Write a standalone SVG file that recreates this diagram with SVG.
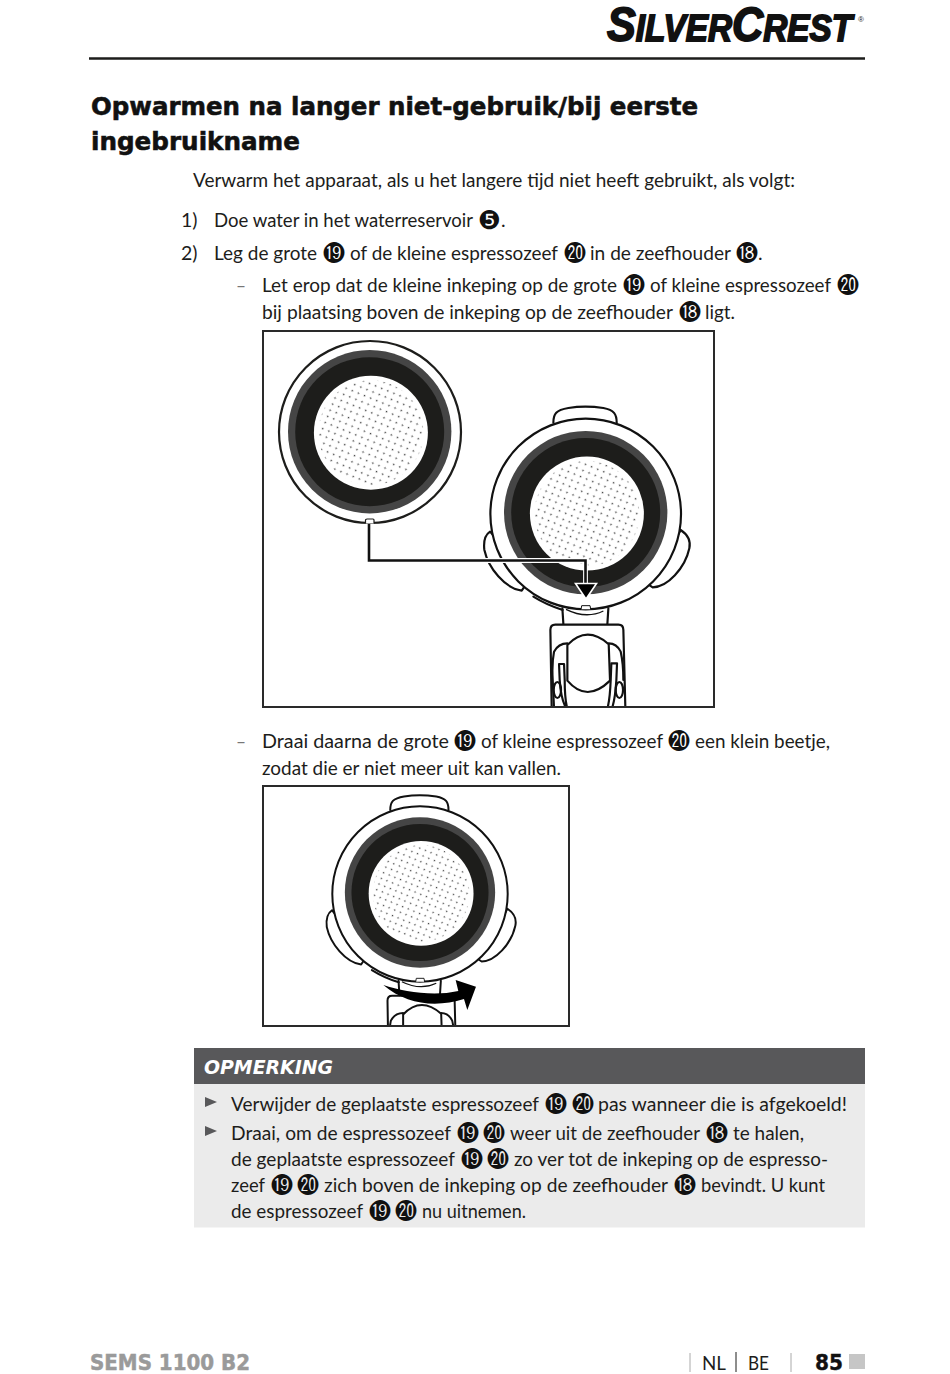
<svg xmlns="http://www.w3.org/2000/svg" xmlns:xlink="http://www.w3.org/1999/xlink" width="950" height="1374" viewBox="0 0 950 1374">
<style>
text{font-family:"Lato","Liberation Sans",sans-serif;font-size:19.5px;fill:#1d1d1b}
.h{font-family:"DejaVu Sans",sans-serif;font-weight:700;font-size:25.5px;fill:#111;stroke:#111;stroke-width:.6}
.n{font-family:"DejaVu Sans",sans-serif;font-size:22px;text-anchor:middle;fill:#111}
.d{fill:#777}
.l{fill:none;stroke:#111;stroke-width:6.5;stroke-linejoin:round;stroke-linecap:round}
.f{fill:#fff;stroke:#1d1d1b;stroke-width:2.2}
</style>
<defs>
<pattern id="dots" patternUnits="userSpaceOnUse" width="6.6" height="6.6" patternTransform="rotate(22)">
<circle cx="1.5" cy="1.5" r="0.85" fill="#444"/>
</pattern>
<g id="ringset">
<circle r="81.7" fill="#454545"/>
<circle r="74.5" fill="#1d1d1b"/>
<circle cx="1.2" cy="1" r="57" fill="#fff"/>
<circle cx="1.2" cy="1" r="52.5" fill="url(#dots)"/>
</g>
<g id="holder">
<g transform="scale(.3333) translate(-977,-552)">
<path class="l" style="fill:#fff" d="M880,278C880,252 888,240 925,234Q975,226 1030,234C1062,240 1070,252 1070,278"/>
<path class="l" style="fill:#fff" d="M690,605C675,615 670,635 673,660C685,715 735,775 785,782L800,760L720,640Z"/>
<path class="l" style="fill:#fff" d="M1262,600C1285,615 1292,635 1288,655C1275,715 1222,772 1178,772L1160,760L1240,640Z"/>
<path class="l" d="M907,835L910,882M1045,835L1042,882"/>
<path class="l" d="M875,1135L871,900Q871,884 886,884L1075,884Q1090,884 1090,900L1096,1135"/>
<path class="l" d="M820,800Q860,825 908,840"/>
<circle cx="977" cy="552" r="286" fill="#fff" stroke="#111" stroke-width="6.5"/>
<path d="M918,838Q978,868 1030,843" fill="none" stroke="#111" stroke-width="4"/>
<path class="l" style="stroke-width:3;fill:#fff" d="M963,838L965,827L990,827L992,838"/>
<path class="l" d="M922,945Q980,885 1045,942M922,945L922,1052Q980,1120 1050,1052L1046,942"/>
<path class="l" d="M922,940Q895,940 882,965Q875,1000 878,1050L882,1135M1046,940Q1070,940 1082,965Q1090,1000 1090,1050"/>
<path class="l" d="M897,1002L912,1002L914,1050Q914,1100 920,1128M897,1002L899,1050Q902,1100 915,1128M1054,1000L1071,1000L1069,1050Q1066,1100 1058,1128M1054,1000L1052,1050Q1050,1100 1044,1128"/>
<ellipse cx="892" cy="1080" rx="11" ry="24" class="l"/>
<ellipse cx="1078" cy="1080" rx="11" ry="24" class="l"/>
</g>
</g>
<clipPath id="c1"><rect x="264" y="332" width="449" height="374"/></clipPath>
<clipPath id="c2"><rect x="264" y="787" width="304" height="238"/></clipPath>
</defs>

<g id="header">
<text x="607" y="41" textLength="245" lengthAdjust="spacingAndGlyphs" style="font-family:'Liberation Sans',sans-serif;font-weight:700;font-style:italic;font-size:48px;fill:#111;stroke:#111;stroke-width:1.8">S<tspan font-size="37">ILVER</tspan>C<tspan font-size="37">REST</tspan></text>
<text x="858" y="22" style="font-family:'Liberation Sans',sans-serif;font-size:8px">®</text>
<path d="M89,58.500H865" stroke="#1d1d1b" stroke-width="2.500" fill="none"/>
</g>

<g id="title">
<text class="h" x="91" y="115" textLength="607" lengthAdjust="spacingAndGlyphs">Opwarmen na langer niet-gebruik/bij eerste</text>
<text class="h" x="91" y="150" textLength="209" lengthAdjust="spacingAndGlyphs">ingebruikname</text>
</g>

<g id="body-top" transform="translate(0,-.5)">
<text x="193" y="187" textLength="602" lengthAdjust="spacingAndGlyphs">Verwarm het apparaat, als u het langere tijd niet heeft gebruikt, als volgt:</text>
<text x="181" y="227">1)</text>
<text x="214" y="227" textLength="259" lengthAdjust="spacingAndGlyphs">Doe water in het waterreservoir</text>
<text class="n" x="489.500" y="229.500" style="font-size:26px">❺</text><text x="501" y="227">.</text>
<text x="181" y="260">2)</text>
<text x="214" y="260" textLength="103" lengthAdjust="spacingAndGlyphs">Leg de grote</text>
<text class="n" x="334" y="261">⓳</text>
<text x="350" y="260" textLength="208" lengthAdjust="spacingAndGlyphs">of de kleine espressozeef</text>
<text class="n" x="575" y="261">⓴</text>
<text x="590" y="260" textLength="141" lengthAdjust="spacingAndGlyphs">in de zeefhouder</text>
<text class="n" x="747" y="261">⓲</text><text x="758" y="260">.</text>
<text class="d" x="236" y="292" textLength="10" lengthAdjust="spacingAndGlyphs">–</text>
<text x="262" y="292" textLength="355" lengthAdjust="spacingAndGlyphs">Let erop dat de kleine inkeping op de grote</text>
<text class="n" x="634" y="293">⓳</text>
<text x="650" y="292" textLength="181" lengthAdjust="spacingAndGlyphs">of kleine espressozeef</text>
<text class="n" x="848" y="293">⓴</text>
<text x="262" y="319" textLength="411" lengthAdjust="spacingAndGlyphs">bij plaatsing boven de inkeping op de zeefhouder</text>
<text class="n" x="690" y="320">⓲</text>
<text x="705" y="319" textLength="30" lengthAdjust="spacingAndGlyphs">ligt.</text>
</g>

<g id="figure-1">
<rect x="263" y="331" width="451" height="376" fill="#fff" stroke="#2a2a2a" stroke-width="2"/>
<g id="sieve-loose">
<circle cx="370" cy="432" r="91" class="f"/>
<use xlink:href="#ringset" href="#ringset" transform="translate(369.700,431.700)"/>
<path d="M365.500,523.500V520Q365.500,519 367,519H373Q374,519 374,520V523.500" fill="#fff" stroke="#1d1d1b" stroke-width="1.200"/>
</g>
<g id="holder-1" clip-path="url(#c1)">
<use xlink:href="#holder" href="#holder" transform="translate(585.700,514)"/>
<use xlink:href="#ringset" href="#ringset" transform="translate(585.700,512.600)"/>
</g>
</g>

<g id="connectors">
<path d="M369,524V560.500H585.500V584" fill="none" stroke="#fff" stroke-width="4.800"/>
<path d="M369,524V560.500H585.500V586" fill="none" stroke="#111" stroke-width="2.600"/>
<path d="M575.500,583.500H596.500L586,599Z" fill="#000" stroke="#fff" stroke-width="1.600"/>
</g>

<g id="text-mid" transform="translate(0,-.5)">
<text class="d" x="236" y="748" textLength="10" lengthAdjust="spacingAndGlyphs">–</text>
<text x="262" y="748" textLength="187" lengthAdjust="spacingAndGlyphs">Draai daarna de grote</text>
<text class="n" x="465" y="749">⓳</text>
<text x="481" y="748" textLength="182" lengthAdjust="spacingAndGlyphs">of kleine espressozeef</text>
<text class="n" x="679" y="749">⓴</text>
<text x="695" y="748" textLength="135" lengthAdjust="spacingAndGlyphs">een klein beetje,</text>
<text x="262" y="775" textLength="299" lengthAdjust="spacingAndGlyphs">zodat die er niet meer uit kan vallen.</text>
</g>

<g id="figure-2">
<rect x="263" y="786" width="306" height="240" fill="#fff" stroke="#2a2a2a" stroke-width="2"/>
<g id="holder-2" clip-path="url(#c2)">
<use xlink:href="#holder" href="#holder" transform="translate(420,894) scale(.92)"/>
<use xlink:href="#ringset" href="#ringset" transform="translate(420,892.500) scale(.92)"/>
</g>
<path id="turn-arrow" transform="translate(260,785) scale(.3333)" d="M370,600C430,620 520,635 595,618L587,585L648,605L622,675L612,642C530,668 440,660 370,600Z" fill="#000"/>
</g>

<g id="note">
<rect x="194" y="1084" width="671" height="143.500" fill="#ebebeb"/>
<rect x="194" y="1048" width="671" height="36" fill="#58585a"/>
<text x="204" y="1074" textLength="129" lengthAdjust="spacingAndGlyphs" style="font-family:'DejaVu Sans',sans-serif;font-weight:700;font-style:italic;font-size:20px;fill:#fff">OPMERKING</text>
<path d="M205,1097L217,1102L205,1107ZM205,1126L217,1131L205,1136Z" fill="#58585a"/>
<g transform="translate(0,-.5)">
<text x="231" y="1111" textLength="308" lengthAdjust="spacingAndGlyphs">Verwijder de geplaatste espressozeef</text>
<text class="n" x="556" y="1112">⓳</text><text class="n" x="583" y="1112">⓴</text>
<text x="598" y="1111" textLength="249" lengthAdjust="spacingAndGlyphs">pas wanneer die is afgekoeld!</text>
<text x="231" y="1140" textLength="220" lengthAdjust="spacingAndGlyphs">Draai, om de espressozeef</text>
<text class="n" x="468" y="1141">⓳</text><text class="n" x="494" y="1141">⓴</text>
<text x="510" y="1140" textLength="190" lengthAdjust="spacingAndGlyphs">weer uit de zeefhouder</text>
<text class="n" x="717" y="1141">⓲</text>
<text x="733" y="1140" textLength="71" lengthAdjust="spacingAndGlyphs">te halen,</text>
<text x="231" y="1166" textLength="224" lengthAdjust="spacingAndGlyphs">de geplaatste espressozeef</text>
<text class="n" x="472" y="1167">⓳</text><text class="n" x="498" y="1167">⓴</text>
<text x="514" y="1166" textLength="314" lengthAdjust="spacingAndGlyphs">zo ver tot de inkeping op de espresso-</text>
<text x="231" y="1192" textLength="34" lengthAdjust="spacingAndGlyphs">zeef</text>
<text class="n" x="282" y="1193">⓳</text><text class="n" x="308" y="1193">⓴</text>
<text x="324" y="1192" textLength="344" lengthAdjust="spacingAndGlyphs">zich boven de inkeping op de zeefhouder</text>
<text class="n" x="685" y="1193">⓲</text>
<text x="701" y="1192" textLength="124" lengthAdjust="spacingAndGlyphs">bevindt. U kunt</text>
<text x="231" y="1218" textLength="132" lengthAdjust="spacingAndGlyphs">de espressozeef</text>
<text class="n" x="380" y="1219">⓳</text><text class="n" x="406" y="1219">⓴</text>
<text x="422" y="1218" textLength="104" lengthAdjust="spacingAndGlyphs">nu uitnemen.</text>
</g>
</g>

<g id="footer">
<text x="90" y="1370" textLength="160" lengthAdjust="spacingAndGlyphs" style="font-family:'DejaVu Sans',sans-serif;font-weight:700;font-size:21.500px;fill:#9a9a9a;stroke:#9a9a9a;stroke-width:.5">SEMS 1100 B2</text>
<path d="M690,1353V1372M791,1353V1372" stroke="#aaa" stroke-width="1" fill="none"/>
<path d="M736,1352V1372" stroke="#1d1d1b" stroke-width="1" fill="none"/>
<text x="702" y="1369.500" textLength="24" lengthAdjust="spacingAndGlyphs">NL</text>
<text x="748" y="1369.500" textLength="21" lengthAdjust="spacingAndGlyphs">BE</text>
<text x="815" y="1370" textLength="28" lengthAdjust="spacingAndGlyphs" style="font-family:'DejaVu Sans',sans-serif;font-weight:700;font-size:21.500px;fill:#111;stroke:#111;stroke-width:.4">85</text>
<rect x="849" y="1354" width="16" height="15" fill="#c6c6c6"/>
</g>
</svg>
